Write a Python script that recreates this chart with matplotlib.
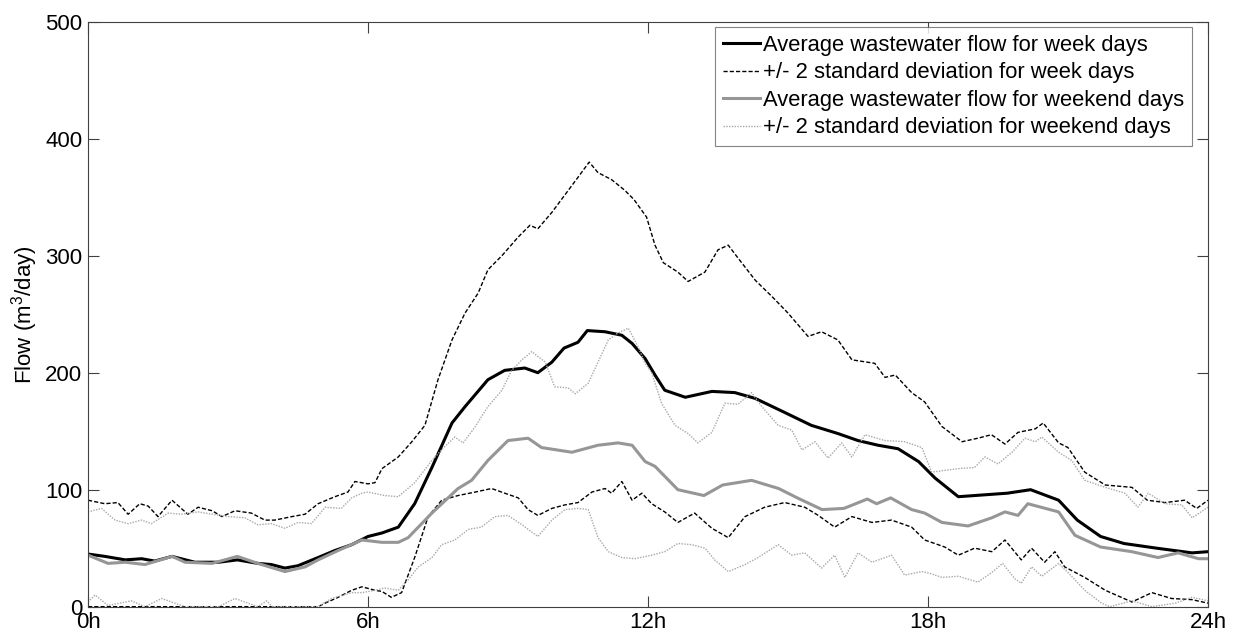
import numpy as np
import matplotlib.pyplot as plt

plt.rcParams['font.family'] = ['Liberation Sans', 'DejaVu Sans']
plt.rcParams['mathtext.fontset'] = 'custom'
plt.rcParams['mathtext.rm'] = 'Liberation Sans'
plt.rcParams['mathtext.it'] = 'Liberation Sans'

# Week days - average flow (m3/day)
wd_mean_h = [0, 0.36, 0.8, 1.15, 1.43, 1.8, 2.29, 2.8, 3.2, 3.64, 3.93, 4.22, 4.5, 4.93, 5.29, 5.65,
             6.0, 6.3, 6.65, 7.0, 7.37, 7.8, 8.08, 8.57, 8.93, 9.36, 9.64, 9.94, 10.2, 10.5, 10.7,
             11.08, 11.44, 11.66, 11.94, 12.15, 12.36, 12.8, 13.37, 13.86, 14.3, 14.93, 15.5, 16.07,
             16.5, 16.93, 17.36, 17.8, 18.15, 18.65, 19.0, 19.7, 20.2, 20.8, 21.2, 21.7, 22.2, 22.9,
             23.66, 24]
wd_mean = [45, 43, 40, 41, 39, 43, 38, 38, 40, 37, 36, 33, 35, 42, 48, 53,
           60, 63, 68, 88, 119, 157, 171, 194, 202, 204, 200, 209, 221, 226, 236,
           235, 232, 225, 212, 198, 185, 179, 184, 183, 178, 166, 155, 148,
           142, 138, 135, 124, 110, 94, 95, 97, 100, 91, 74, 60, 54, 50,
           46, 47]

# Week days - +2 std
wd_up_h = [0, 0.36, 0.64, 0.86, 1.11, 1.29, 1.5, 1.8, 2.14, 2.36, 2.66, 2.87, 3.15, 3.5, 3.79, 4.0,
           4.37, 4.65, 4.93, 5.29, 5.57, 5.72, 6.0, 6.15, 6.3, 6.65, 6.94, 7.22, 7.5, 7.8, 8.08,
           8.36, 8.57, 8.87, 9.22, 9.47, 9.64, 9.94, 10.22, 10.5, 10.74, 10.93, 11.22, 11.5, 11.7,
           11.97, 12.15, 12.33, 12.64, 12.86, 13.22, 13.5, 13.72, 13.93, 14.3, 14.66, 15.0, 15.43,
           15.72, 16.07, 16.37, 16.86, 17.08, 17.3, 17.65, 17.93, 18.3, 18.73, 19.07, 19.36, 19.65,
           19.93, 20.3, 20.47, 20.8, 21.0, 21.36, 21.8, 22.37, 22.7, 23.08, 23.5, 23.76, 24]
wd_up = [91, 88, 89, 79, 88, 86, 77, 91, 79, 85, 82, 77, 82, 80, 74, 74,
         77, 79, 88, 94, 98, 107, 105, 106, 118, 128, 141, 155, 194, 228, 251,
         268, 288, 300, 316, 326, 323, 337, 352, 367, 380, 371, 365, 356, 348,
         333, 309, 294, 286, 278, 286, 305, 309, 298, 279, 265, 251, 231,
         235, 228, 211, 208, 196, 198, 183, 175, 154, 141, 144, 147, 139,
         149, 152, 157, 140, 136, 115, 104, 102, 91, 89, 91, 84, 91]

# Week days - -2 std
wd_lo_h = [0, 1, 2, 3, 4, 4.93, 5.08, 5.36, 5.65, 5.87, 6.15, 6.3, 6.5, 6.72, 7.0, 7.29, 7.58, 7.93,
           8.3, 8.65, 8.93, 9.22, 9.43, 9.64, 9.94, 10.22, 10.5, 10.8, 11.08, 11.22, 11.44, 11.66,
           11.87, 12.08, 12.36, 12.64, 13.0, 13.37, 13.72, 14.08, 14.5, 14.93, 15.36, 15.65, 16.0,
           16.37, 16.8, 17.22, 17.65, 17.93, 18.36, 18.65, 19.0, 19.37, 19.65, 20.0, 20.22, 20.5,
           20.72, 20.93, 21.36, 21.8, 22.37, 22.8, 23.22, 23.66, 24]
wd_lo = [0, 0, 0, 0, 0, 0, 3, 8, 14, 17, 14, 13, 8, 12, 42, 77, 91, 95,
         98, 101, 97, 93, 83, 78, 84, 87, 89, 98, 101, 97, 107, 91,
         97, 88, 81, 72, 80, 67, 59, 77, 85, 89, 85, 78, 68,
         77, 72, 74, 68, 57, 51, 44, 50, 47, 57, 40, 50, 38,
         47, 34, 25, 14, 4, 12, 7, 6, 3]

# Weekend days - average flow
we_mean_h = [0, 0.43, 0.8, 1.22, 1.8, 2.08, 2.66, 3.2, 3.64, 4.22, 4.65, 4.93, 5.36, 5.87, 6.3, 6.65,
             6.86, 7.37, 7.93, 8.22, 8.57, 9.0, 9.43, 9.72, 10.37, 10.93, 11.36, 11.66, 11.94, 12.15,
             12.64, 13.2, 13.6, 14.22, 14.8, 15.2, 15.73, 16.2, 16.7, 16.9, 17.2, 17.65, 17.93, 18.3,
             18.86, 19.37, 19.65, 19.93, 20.14, 20.8, 21.15, 21.7, 22.37, 22.93, 23.36, 23.8, 24]
we_mean = [44, 37, 38, 36, 43, 38, 37, 43, 37, 30, 34, 40, 48, 57, 55, 55,
           59, 80, 101, 108, 125, 142, 144, 136, 132, 138, 140, 138, 124, 120,
           100, 95, 104, 108, 101, 93, 83, 84, 92, 88, 93, 83, 80, 72,
           69, 76, 81, 78, 88, 81, 61, 51, 47, 42, 46, 41, 41]

# Weekend days - +2 std
we_up_h = [0, 0.29, 0.58, 0.86, 1.15, 1.36, 1.72, 2.0, 2.36, 2.66, 3.0, 3.36, 3.64, 3.93, 4.22, 4.5,
           4.79, 5.08, 5.43, 5.65, 5.87, 6.0, 6.36, 6.65, 7.0, 7.37, 7.65, 7.86, 8.04, 8.3, 8.57,
           8.87, 9.08, 9.3, 9.51, 9.8, 10.0, 10.29, 10.44, 10.72, 10.93, 11.15, 11.36, 11.58, 11.79,
           11.94, 12.08, 12.29, 12.58, 12.86, 13.07, 13.37, 13.65, 13.93, 14.22, 14.44, 14.79, 15.08,
           15.3, 15.58, 15.86, 16.15, 16.37, 16.65, 17.08, 17.5, 17.87, 18.08, 18.65, 19.0, 19.22,
           19.5, 19.8, 20.08, 20.3, 20.44, 20.8, 21.08, 21.36, 21.8, 22.22, 22.5, 22.72, 23.08,
           23.44, 23.66, 24]
we_up = [81, 84, 74, 71, 74, 71, 80, 79, 81, 79, 77, 76, 70, 71, 67, 72,
         71, 85, 84, 93, 97, 98, 95, 94, 106, 125, 137, 145, 140, 154, 171,
         185, 202, 211, 218, 209, 188, 187, 182, 191, 209, 228, 234, 238, 222,
         208, 200, 174, 155, 148, 140, 149, 174, 173, 183, 171, 155, 151,
         134, 141, 127, 140, 128, 147, 142, 141, 136, 115, 118, 119, 128,
         122, 132, 144, 141, 145, 132, 125, 108, 102, 97, 85, 97, 88,
         87, 76, 85]

# Weekend days - -2 std
we_lo_h = [0, 0.15, 0.43, 0.8, 0.93, 1.22, 1.58, 1.86, 2.08, 2.8, 3.15, 3.36, 3.64, 3.83, 3.95, 4.93,
           5.22, 5.65, 5.87, 6.15, 6.36, 6.65, 6.86, 7.08, 7.37, 7.58, 7.86, 8.15, 8.43, 8.72, 9.0,
           9.3, 9.64, 9.94, 10.22, 10.5, 10.72, 10.93, 11.15, 11.44, 11.72, 12.08, 12.36, 12.64,
           12.94, 13.22, 13.43, 13.72, 14.08, 14.36, 14.79, 15.08, 15.36, 15.72, 16.0, 16.22, 16.5,
           16.8, 17.22, 17.5, 17.87, 18.08, 18.3, 18.65, 19.07, 19.36, 19.6, 19.86, 20.0, 20.22,
           20.44, 20.8, 21.08, 21.36, 21.72, 21.9, 22.37, 22.8, 23.3, 23.66, 24]
we_lo = [4, 10, 1, 4, 5, 0, 7, 3, 0, 0, 7, 4, 0, 5, 0, 0,
         7, 12, 12, 14, 16, 14, 23, 34, 42, 53, 57, 66, 68, 77, 78,
         70, 60, 74, 83, 84, 83, 59, 47, 42, 41, 44, 47, 54,
         53, 50, 40, 30, 36, 42, 53, 44, 46, 33, 44, 25, 46,
         38, 44, 27, 30, 28, 25, 26, 21, 29, 37, 24, 20, 34,
         26, 37, 26, 14, 3, 0, 5, 0, 3, 8, 5]

fig = plt.figure(figsize=(12.36, 6.35), dpi=100)
ax = fig.add_axes([0.0712, 0.0446, 0.9061, 0.9212])

ax.plot(wd_mean_h, wd_mean, color='black', lw=2.2, label='Average wastewater flow for week days')
ax.plot(wd_up_h, wd_up, color='black', lw=1.0, dashes=(3, 1.5),
        label='+/- 2 standard deviation for week days')
ax.plot(wd_lo_h, wd_lo, color='black', lw=1.0, dashes=(3, 1.5))
ax.plot(we_mean_h, we_mean, color='#969696', lw=2.2, label='Average wastewater flow for weekend days')
ax.plot(we_up_h, we_up, color='#a8a8a8', lw=1.0, dashes=(1, 1),
        label='+/- 2 standard deviation for weekend days')
ax.plot(we_lo_h, we_lo, color='#a8a8a8', lw=1.0, dashes=(1, 1))

ax.set_xlim(0, 24)
ax.set_ylim(0, 500)
ax.set_xticks([0, 6, 12, 18, 24])
ax.set_xticklabels(['0h', '6h', '12h', '18h', '24h'])
ax.set_yticks([0, 100, 200, 300, 400, 500])
ax.tick_params(direction='in', length=8, width=0.8, color='#404040', labelsize=16,
               top=True, right=True, pad=4)
for s in ax.spines.values():
    s.set_color('#404040')
    s.set_linewidth(0.8)

ax.set_ylabel('Flow (m$^3$/day)', fontsize=16, labelpad=4)

leg = ax.legend(loc='upper right', bbox_to_anchor=(0.986, 0.991), borderaxespad=0,
                fontsize=15.8, frameon=True, fancybox=False, handlelength=1.7,
                handletextpad=0.15, labelspacing=0.3, borderpad=0.35)
leg.get_frame().set_edgecolor('#666666')
leg.get_frame().set_linewidth(0.8)

fig.savefig('out.png', dpi=100)
